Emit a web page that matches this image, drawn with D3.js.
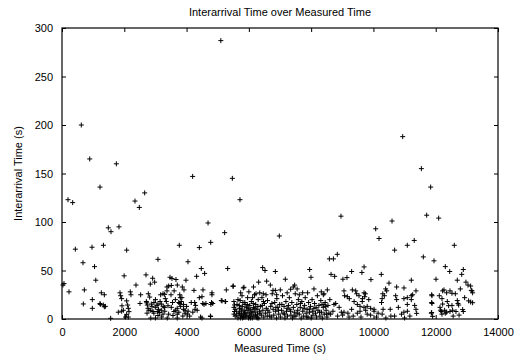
<!DOCTYPE html>
<html>
<head>
<meta charset="utf-8">
<script src="https://cdn.jsdelivr.net/npm/d3@7"></script>
<style>
  body { margin: 0; background: #fff; }
  text { font-family: "Liberation Sans", Arial, sans-serif; fill: #000; }
</style>
</head>
<body>
<div id="chart"></div>
<script>
// [measured time (s), interarrival time (s)], grouped by time window
var pts0to2k = [
  [620,200],[890,165],[1745,160],[1220,136],[193,123],[343,120],[1487,94],[1573,90],[1830,95],
  [428,72],[964,74],[1330,76],[674,58],[1045,54],[1085,40],[1995,44.5],[64,36.5],[30,35],
  [225,28],[717,30],[1263,27],[1360,25],[1862,27],[1883,24],[1915,21],[685,15.5],[974,20],
  [974,11],[1220,16],[1327,14.4],[1360,12.7],[1563,0.7],[1808,7],[1915,8],[1970,9],[1926,13.6],
  [1392,13],[1230,15]
];
var pts2kto4k = [
  [2077,71],[2076,18.7],[2108,14.4],[2130,11],[2151,7.6],[2076,4.8],[2130,2],[2040,2],[2194,28],
  [2215,25],[2344,121.6],[2483,115],[2655,130],[2376,35],[2526,25],[2505,16],[2697,45.5],[2772,26],
  [2708,18],[2740,14.4],[2762,11],[2730,6],[2911,42],[2975,38],[2836,36],[3082,61.5],[3467,43],
  [3531,41.8],[3660,40.7],[3981,40],[3371,33],[3425,34],[3510,34.6],[3703,35],[3863,33],[3917,30],
  [3767,76],[2815,22.6],[2868,15.4],[2954,17],[2996,12],[3060,7.7],[3135,6.7],[3189,9],[3243,5],
  [2922,7.7],[2847,9],[3082,3.6],[3296,12],[3403,13.7],[3510,12],[3596,7.7],[3564,3.6],[3425,5],
  [3168,25],[3296,25.4],[3317,21],[3189,15.4],[3082,15.4],[3371,29],[3243,26],[2720,16.7],[2790,9],
  [2890,13],[2950,6],[3000,20],[3050,14],[3100,10],[3150,18],[3200,2],[3250,13],[3300,8],[3350,18],
  [3380,1],[2850,1],[3000,1],[3780,25],[3800,22],[3830,18],[3780,16],[3810,13],[3750,7],[3600,29],
  [3640,20],[3700,11],[3900,10],[3950,6],[3880,3],[3500,25],[3550,17],[3650,9],[3700,5],[3750,17],
  [3850,22],[3900,15],[3950,9],[3700,1]
];
var pts4kto6k = [
  [4045,59],[4195,147],[4410,73.6],[4473,52],[4580,47],[4323,44],[4238,29.5],[4527,30],[4690,99],
  [4775,79],[4815,25],[4800,17],[4780,15],[4450,2],[4765,3],[4270,10],[4340,9],[4560,15],[4620,16],
  [4410,22],[4495,23],[4520,16],[4815,27],[4840,16],[4260,17],[4290,14],[4200,7],[4024,5],[4000,13],
  [4050,8],[4100,3],[4150,17],[5100,287],[5470,145],[5715,123],[5223,89],[5320,52],[5500,34],
  [5820,32],[5276,30],[5490,33.7],[5140,18.7],[5240,18],[5115,19],[5254,18],[5520,18],[5540,14.5],
  [5560,10],[5540,7.7],[5520,5],[4773,2.6],[4495,1],[5844,32.7],[5737,27],[5520,12],[5560,3],
  [5600,8],[5620,15],[5650,1],[5680,6],[5700,11],[5720,19],[5740,3],[5760,8],[5790,13],[5800,1],
  [5820,5],[5850,9],[5870,17],[5880,2],[5900,7],[5920,12],[5940,4],[5960,22],[5970,9],[5990,1],
  [5650,20],[5780,24],[5880,15],[5730,1],[5830,2],[5610,4],[5690,14],[5750,10],[5810,17],
  [5860,6],[5910,3],[5950,15],[5980,11],[5700,6],[5770,4]
];
var pts6kto8k = [
  [6010,6],[6030,14],[6040,3],[6060,10],[6080,18],[6090,5],[6110,1],[6130,8],[6150,12],[6160,3],
  [6180,25],[6200,7],[6220,15],[6240,2],[6260,10],[6280,5],[6300,20],[6320,1],[6340,8],[6370,13],
  [6400,4],[6420,22],[6450,9],[6480,2],[6500,16],[6530,6],[6560,11],[6590,3],[6000,28],[6120,22],
  [6350,27],[6550,25],[6050,1],[6190,11],[6270,1],[6430,14],[6600,19],[6650,7],[6700,13],[6720,2],
  [6750,26],[6780,10],[6800,4],[6830,17],[6860,8],[6890,1],[6900,21],[6930,12],[6960,5],[6990,15],
  [7020,2],[7050,9],[7080,24],[7100,6],[7130,13],[7160,1],[7190,18],[7210,8],[7240,3],[7270,14],
  [7300,22],[7320,10],[7350,4],[7380,17],[7400,1],[7430,12],[7460,7],[7490,26],[7510,3],[7540,15],
  [7570,9],[7590,20],[6978,85.6],[6443,53],[6518,50],[6850,49],[7171,41],[7952,51],[7995,43],
  [6315,38],[6571,39],[6775,29.5],[6850,29.5],[6229,26],[6464,26],[6892,25],[7342,30.7],[7427,33],
  [7470,35],[7727,27],[7887,27],[7620,25],[7620,5],[7650,12],[7680,1],[7700,18],[7730,8],[7760,3],
  [7790,14],[7810,22],[7840,6],[7870,10],[7900,2],[7920,17],[7950,7],[7980,13],[6150,33],[6690,35],
  [6070,7],[6140,16],[6210,4],[6290,13],[6360,6],[6470,18],[6610,9],[6670,3],[6740,16],[6870,12],
  [6950,9],[7060,15],[7150,5],[7230,11],[7340,8],[7450,3],[7550,6],[7660,16],[7770,11],[7860,2],
  [7940,10],[7010,30],[7230,27],[7550,31]
];
var pts8kto10k = [
  [8000,1],[8030,20],[8060,4],[8090,11],[8110,16],[8140,6],[8170,2],[8200,24],[8220,9],[8250,14],
  [8280,3],[8310,19],[8330,7],[8360,1],[8390,12],[8420,5],[8450,17],[8480,9],[8510,2],[8540,14],
  [8570,6],[8091,31],[8326,28],[8390,25],[8585,62],[8715,62],[8840,66.7],[8640,46],[8755,44],
  [9020,41],[9150,42.7],[9300,49],[9630,48],[9700,53.7],[9920,40.6],[8958,106],[8520,30],[8413,26],
  [9055,29],[9323,30],[9430,29],[9462,26],[9537,24],[9076,24],[9162,23],[9226,21],[9700,27],
  [9740,26],[9720,23],[9650,21],[9640,18],[8734,15],[8788,16],[9483,15],[9570,13],[9697,12],
  [9800,13],[9910,11],[8970,7],[9010,4],[9055,7],[9180,6],[9216,2],[9483,6],[9570,8],[9800,5],
  [9910,4],[8627,5],[8413,15],[8470,13],[8500,5],[8700,8],[8850,3],[8900,12],[9300,10],[9350,3],
  [9600,2],[9750,9],[8600,20],[9380,18],[9850,20],[8050,8],[8160,12],[8270,7],[8350,15]
];
var pts10kto13k = [
  [10073,93],[10180,83],[10020,10],[10020,8],[10150,6],[10280,5],[10310,10],[10540,10],[10560,3],
  [10680,3],[10980,7],[11090,8],[11170,3],[10100,2],[10400,1],[10800,12],[10900,5],[11000,1],
  [10253,46],[10500,37],[10393,31],[10425,29],[10746,33],[10981,32],[11216,40],[10300,26],[10350,24],
  [10280,21],[10260,17],[10714,24],[10746,20],[10980,21],[11088,22],[11088,15],[11216,24],[11216,20],
  [10681,71],[11088,76],[11310,81],[10597,101],[10940,188],[11540,155],[11838,136],[11710,107],
  [12095,104],[11602,64],[11945,60],[12597,76],[12308,54],[12449,49],[12886,51],[12835,46],
  [12009,41],[12693,40],[12971,38],[13036,35],[13121,34],[13164,29],[13185,27],[11366,29],[11259,25],
  [11880,24],[12115,24],[12222,29],[12265,30],[12350,27],[12458,29],[12522,26.5],[12630,26],
  [12790,31],[12929,22],[13057,18.7],[13121,17.5],[13185,16.8],[11880,16],[12201,21],[12222,15.4],
  [12372,18],[12415,13.7],[12522,14],[12693,19],[12715,16],[12736,14.4],[12137,12],[12158,9],
  [12180,7.7],[12287,9],[12350,7],[12458,7.7],[12543,9],[12650,7.7],[12865,9.7],[12886,7.7],
  [11324,14],[11366,10],[11388,5.8],[11859,6],[11901,2.7],[12201,5],[12308,6],[13143,29.5],
  [11870,25],[11870,17],[11870,6.7],[12560,3],[12750,4]
];

var xTicks = [0, 2000, 4000, 6000, 8000, 10000, 12000, 14000];
var yTicks = [0, 50, 100, 150, 200, 250, 300];

var data = [].concat(pts0to2k, pts2kto4k, pts4kto6k, pts6kto8k, pts8kto10k, pts10kto13k);

var margin = { top: 28, right: 18, bottom: 37, left: 62 };
var width = 516 - margin.left - margin.right;
var height = 356 - margin.top - margin.bottom;

var svg = d3.select("#chart")
  .append("svg")
  .attr("width", 516)
  .attr("height", 356);

var g = svg.append("g")
  .attr("transform", "translate(" + margin.left + "," + margin.top + ")");

var xScale = d3.scaleLinear().domain([0, 14000]).range([0, width]);
var yScale = d3.scaleLinear().domain([0, 300]).range([height, 0]);

// ticks on all four sides, pointing inward (gnuplot style)
g.append("g")
  .attr("transform", "translate(0," + height + ")")
  .call(d3.axisBottom(xScale).tickValues(xTicks).tickFormat(d3.format("d"))
    .tickSizeInner(-4).tickSizeOuter(0).tickPadding(9))
  .call(function (a) { a.select(".domain").remove(); });
g.append("g")
  .call(d3.axisTop(xScale).tickValues(xTicks).tickSizeInner(-4).tickSizeOuter(0).tickFormat(""))
  .call(function (a) { a.select(".domain").remove(); });
g.append("g")
  .call(d3.axisLeft(yScale).tickValues(yTicks).tickSizeInner(-4).tickSizeOuter(0).tickPadding(9))
  .call(function (a) { a.select(".domain").remove(); });
g.append("g")
  .attr("transform", "translate(" + width + ",0)")
  .call(d3.axisRight(yScale).tickValues(yTicks).tickSizeInner(-4).tickSizeOuter(0).tickFormat(""))
  .call(function (a) { a.select(".domain").remove(); });

g.selectAll(".tick text").style("font-size", "11px").style("font-family", "Liberation Sans, Arial, sans-serif");
g.selectAll(".tick line").attr("stroke", "#000");

// frame
g.append("rect")
  .attr("width", width)
  .attr("height", height)
  .attr("fill", "none")
  .attr("stroke", "#000")
  .attr("stroke-width", 1.2);

// points as "+" marks
g.selectAll("path.pt")
  .data(data)
  .enter()
  .append("path")
  .attr("class", "pt")
  .attr("transform", function (d) {
    return "translate(" + xScale(d[0]) + "," + yScale(d[1]) + ")";
  })
  .attr("d", "M-2.5,0H2.5M0,-2.5V2.5")
  .attr("stroke", "#000")
  .attr("stroke-width", 1)
  .attr("fill", "none");

// title and labels
svg.append("text")
  .attr("x", margin.left + width / 2)
  .attr("y", 16)
  .attr("text-anchor", "middle")
  .style("font-size", "11px")
  .text("Interarrival Time over Measured Time");

svg.append("text")
  .attr("x", margin.left + width / 2)
  .attr("y", 352)
  .attr("text-anchor", "middle")
  .style("font-size", "11px")
  .text("Measured Time (s)");

svg.append("text")
  .attr("transform", "translate(18," + (margin.top + height / 2) + ") rotate(-90)")
  .attr("dy", "0.35em")
  .attr("text-anchor", "middle")
  .style("font-size", "11px")
  .text("Interarrival Time (s)");
</script>
</body>
</html>
